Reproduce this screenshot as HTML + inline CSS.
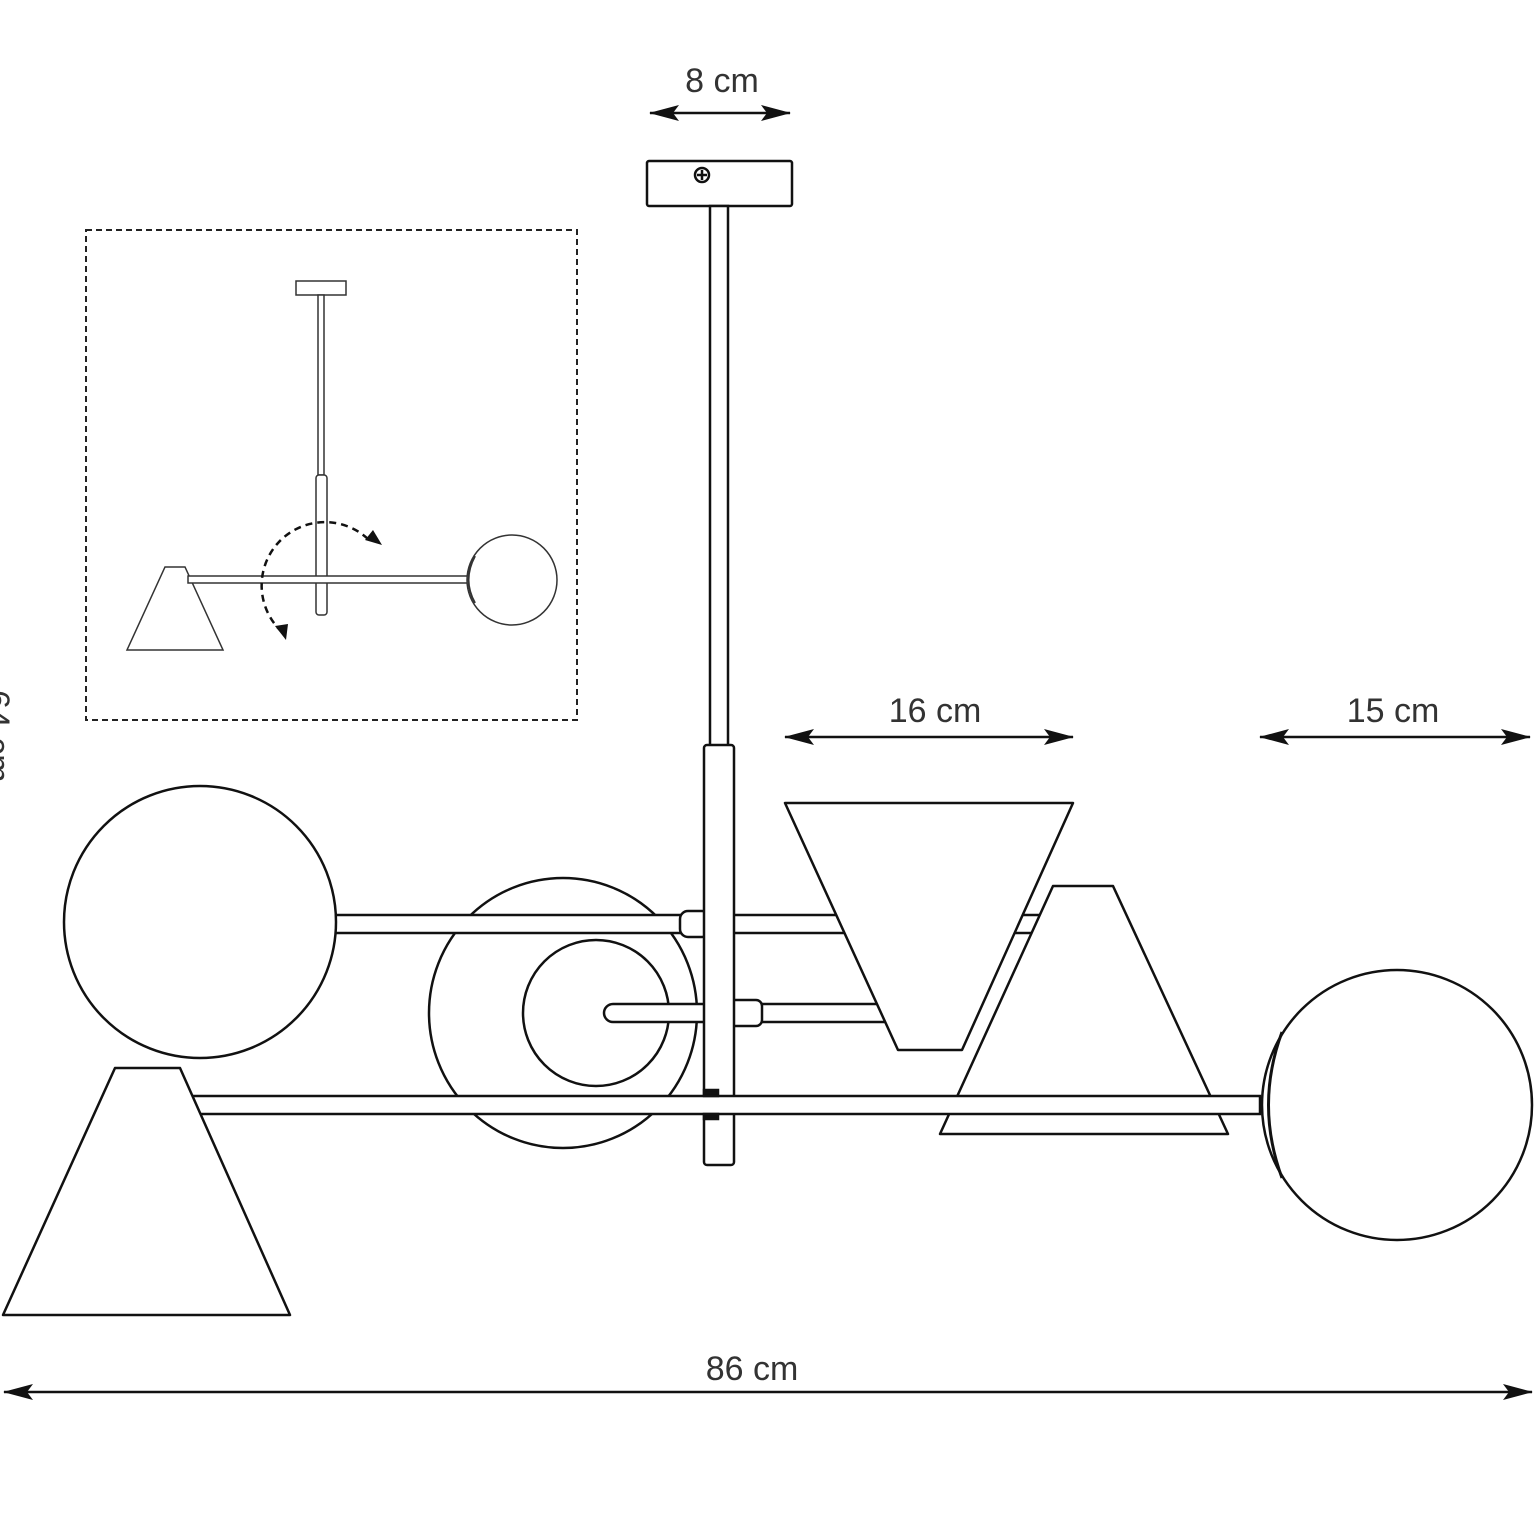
<!DOCTYPE html>
<html><head><meta charset="utf-8"><style>
html,body{margin:0;padding:0;background:#fff}
svg{display:block}
text{font-family:"Liberation Sans",sans-serif;fill:#333}
</style></head><body>
<svg width="1540" height="1540" viewBox="0 0 1540 1540" xmlns="http://www.w3.org/2000/svg">
<defs>
<marker id="big" viewBox="0 0 30 16" refX="29" refY="8" markerWidth="30" markerHeight="16" markerUnits="userSpaceOnUse" orient="auto-start-reverse"><path d="M0,0 L30,8 L0,16 L6,8 z" fill="#111"/></marker>
</defs>
<g fill="#fff" stroke="#111" stroke-width="2.5">
<line x1="650" y1="113" x2="790" y2="113" marker-start="url(#big)" marker-end="url(#big)"/>
<line x1="785" y1="737" x2="1073" y2="737" marker-start="url(#big)" marker-end="url(#big)"/>
<line x1="1260" y1="737" x2="1530" y2="737" marker-start="url(#big)" marker-end="url(#big)"/>
<line x1="4" y1="1392" x2="1532" y2="1392" marker-start="url(#big)" marker-end="url(#big)"/>
<rect x="647" y="161" width="145" height="45" rx="2"/>
<circle cx="702" cy="175" r="7"/>
<line x1="697" y1="175" x2="707" y2="175"/><line x1="702" y1="170" x2="702" y2="180"/>
<rect x="710" y="206" width="18" height="540"/>
<ellipse cx="563" cy="1013" rx="134" ry="135"/>
<circle cx="596" cy="1013" r="73"/>
<rect x="330" y="915" width="720" height="18"/>
<path d="M1053,886 L1113,886 L1228,1134 L940,1134 Z" stroke-linejoin="round"/>
<rect x="680" y="911" width="30" height="26" rx="8"/>
<rect x="604" y="1004" width="290" height="18" rx="9"/>
<rect x="728" y="1000" width="34" height="26" rx="6"/>
<rect x="704" y="745" width="30" height="420" rx="3"/>
<path d="M785,803 L1073,803 L962,1050 L898,1050 Z" stroke-linejoin="round"/>
<circle cx="200" cy="922" r="136"/>
<rect x="180" y="1096" width="1080" height="18"/>
<rect x="704" y="1090" width="14" height="6" fill="#111"/>
<rect x="704" y="1114" width="14" height="5" fill="#111"/>
<path d="M115,1068 L180,1068 L290,1315 L3,1315 Z" stroke-linejoin="round"/>
<circle cx="1397" cy="1105" r="135"/>
<path d="M1282,1032 Q1255,1105 1282,1178" fill="none" stroke-width="3"/>
</g>
<text x="722" y="92" font-size="34" text-anchor="middle">8 cm</text>
<text x="935" y="722" font-size="34" text-anchor="middle">16 cm</text>
<text x="1393" y="722" font-size="34" text-anchor="middle">15 cm</text>
<text x="752" y="1380" font-size="34" text-anchor="middle">86 cm</text>
<text x="0" y="0" font-size="34" transform="translate(-14,690) rotate(90)">64 cm</text>
<rect x="86" y="230" width="491" height="490" fill="#fff" stroke="#222" stroke-width="2" stroke-dasharray="6,4"/>
<g fill="#fff" stroke="#333" stroke-width="1.5">
<rect x="296" y="281" width="50" height="14"/>
<rect x="318" y="295" width="6" height="180"/>
<rect x="316" y="475" width="11" height="140" rx="3"/>
<path d="M165,567 L185,567 L223,650 L127,650 Z"/>
<rect x="188" y="576" width="280" height="7"/>
<circle cx="512" cy="580" r="45"/>
<path d="M475,556 Q462,580 475,603" fill="none" stroke-width="2"/>
</g>
<path d="M368,539 A62,62 0 1 0 282,632" fill="none" stroke="#111" stroke-width="2.5" stroke-dasharray="7,5"/>
<path d="M382,545 L365,540 L373,530 Z" fill="#111"/>
<path d="M286,640 L275,626 L288,624 Z" fill="#111"/>
</svg>
</body></html>
